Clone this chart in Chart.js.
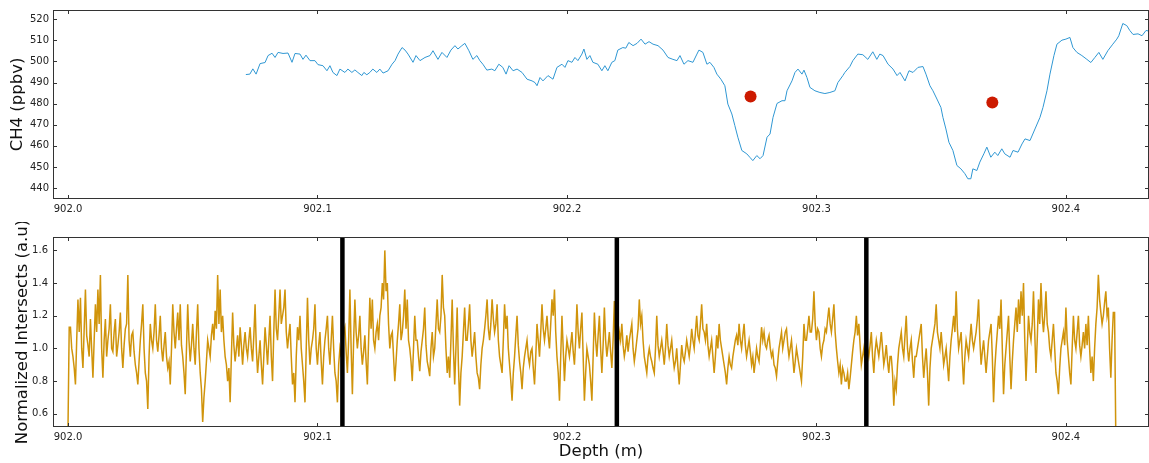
<!DOCTYPE html>
<html>
<head>
<meta charset="utf-8">
<script src="https://cdn.jsdelivr.net/npm/chart.js@4.4.1/dist/chart.umd.min.js"></script>
<style>
  html, body { margin: 0; padding: 0; background: #fff; }
  #wrap { position: relative; width: 1149px; height: 463px; }
  canvas { position: absolute; left: 0; }
  #ch4 { top: 0; }
  #ints { top: 222px; }
</style>
</head>
<body>
<div id="wrap">
  <canvas id="ch4" width="1149" height="222"></canvas>
  <canvas id="ints" width="1149" height="241"></canvas>
</div>
<script>
// ---- data ----
const X_TICKS = [902.0, 902.1, 902.2, 902.3, 902.4];
const CH4_TICKS = [440, 450, 460, 470, 480, 490, 500, 510, 520];
const INT_TICKS = [0.6, 0.8, 1.0, 1.2, 1.4, 1.6];

// CH4 record (depth m, ppbv)
const CH4_DEPTH = [
  902.0713, 902.0729, 902.0741, 902.0754, 902.0770, 902.0790, 902.0802, 902.0818, 902.0830, 902.0842,
  902.0862, 902.0882, 902.0898, 902.0910, 902.0930, 902.0942, 902.0954, 902.0970, 902.0990, 902.1002,
  902.1022, 902.1038, 902.1050, 902.1062, 902.1078, 902.1090, 902.1110, 902.1122, 902.1138, 902.1150,
  902.1162, 902.1178, 902.1186, 902.1198, 902.1210, 902.1222, 902.1238, 902.1250, 902.1263, 902.1283,
  902.1299, 902.1311, 902.1323, 902.1339, 902.1351, 902.1363, 902.1383, 902.1395, 902.1411, 902.1431,
  902.1451, 902.1463, 902.1483, 902.1499, 902.1519, 902.1535, 902.1551, 902.1563, 902.1579, 902.1591,
  902.1607, 902.1623, 902.1639, 902.1651, 902.1663, 902.1679, 902.1699, 902.1711, 902.1727, 902.1743,
  902.1756, 902.1768, 902.1784, 902.1800, 902.1820, 902.1840, 902.1860, 902.1872, 902.1880, 902.1892,
  902.1904, 902.1924, 902.1944, 902.1960, 902.1980, 902.1992, 902.2004, 902.2020, 902.2032, 902.2044,
  902.2060, 902.2068, 902.2080, 902.2092, 902.2104, 902.2124, 902.2140, 902.2152, 902.2164, 902.2180,
  902.2192, 902.2204, 902.2224, 902.2236, 902.2248, 902.2265, 902.2281, 902.2297, 902.2313, 902.2329,
  902.2345, 902.2365, 902.2385, 902.2405, 902.2425, 902.2441, 902.2453, 902.2469, 902.2485, 902.2505,
  902.2521, 902.2529, 902.2545, 902.2561, 902.2573, 902.2589, 902.2601, 902.2617, 902.2633, 902.2645,
  902.2661, 902.2673, 902.2685, 902.2701, 902.2721, 902.2733, 902.2745, 902.2761, 902.2774, 902.2786,
  902.2802, 902.2814, 902.2826, 902.2842, 902.2862, 902.2874, 902.2882, 902.2902, 902.2914, 902.2926,
  902.2942, 902.2950, 902.2962, 902.2974, 902.2994, 902.3014, 902.3034, 902.3054, 902.3074, 902.3086,
  902.3106, 902.3114, 902.3134, 902.3146, 902.3166, 902.3186, 902.3206, 902.3226, 902.3242, 902.3254,
  902.3267, 902.3287, 902.3307, 902.3323, 902.3335, 902.3355, 902.3371, 902.3387, 902.3407, 902.3427,
  902.3439, 902.3455, 902.3467, 902.3483, 902.3499, 902.3507, 902.3519, 902.3531, 902.3547, 902.3563,
  902.3579, 902.3595, 902.3607, 902.3619, 902.3627, 902.3643, 902.3655, 902.3671, 902.3683, 902.3699,
  902.3715, 902.3727, 902.3743, 902.3755, 902.3776, 902.3788, 902.3808, 902.3824, 902.3836, 902.3856,
  902.3876, 902.3896, 902.3908, 902.3924, 902.3936, 902.3952, 902.3964, 902.3984, 902.4000, 902.4016,
  902.4028, 902.4044, 902.4064, 902.4084, 902.4100, 902.4116, 902.4132, 902.4148, 902.4168, 902.4188,
  902.4204, 902.4212, 902.4228, 902.4244, 902.4256, 902.4269, 902.4289, 902.4305, 902.4321, 902.4333
];
const CH4_PPBV = [
  493.8, 494.0, 496.5, 494.0, 499.0, 499.5, 502.8, 503.9, 501.9, 504.3,
  503.8, 504.0, 499.6, 503.8, 503.5, 501.0, 503.0, 500.4, 500.4, 498.5,
  498.0, 495.6, 498.0, 494.8, 493.3, 496.4, 494.8, 496.4, 494.8, 496.0,
  494.8, 493.3, 494.8, 493.7, 494.8, 496.4, 494.8, 496.4, 494.5, 495.6,
  498.7, 500.4, 503.5, 506.6, 505.4, 503.5, 499.6, 502.8, 500.4, 501.9,
  502.8, 505.1, 501.0, 504.3, 501.9, 505.4, 507.5, 505.9, 507.5, 508.6,
  505.1, 501.0, 502.8, 500.4, 498.7, 495.9, 496.4, 495.6, 498.7, 497.2,
  494.0, 498.0, 495.6, 496.4, 494.8, 491.6, 490.8, 490.0, 488.5, 492.4,
  490.8, 493.3, 491.6, 497.2, 498.7, 497.2, 500.4, 499.6, 501.9, 500.4,
  503.5, 505.9, 501.0, 502.8, 499.6, 498.7, 495.6, 498.0, 495.6, 499.6,
  500.4, 505.4, 506.6, 506.3, 509.0, 507.5, 508.6, 510.6, 508.2, 509.4,
  508.2, 507.5, 505.4, 501.9, 501.0, 500.4, 502.8, 498.7, 500.4, 499.6,
  503.5, 505.4, 504.3, 498.7, 499.6, 497.2, 494.0, 491.6, 488.5, 479.8,
  475.1, 469.6, 464.1, 457.8, 456.2, 454.6, 453.0, 455.4, 453.9, 455.4,
  464.1, 465.6, 473.5, 480.1, 481.4, 481.4, 486.1, 490.8, 494.8, 496.4,
  494.0, 495.9, 492.4, 487.7, 486.1, 485.3, 484.8, 485.3, 486.1, 490.0,
  493.3, 494.8, 497.6, 500.4, 503.5, 503.2, 501.0, 504.6, 501.0, 503.5,
  502.8, 498.7, 496.4, 493.3, 494.8, 490.8, 495.6, 494.8, 497.2, 497.6,
  494.0, 488.5, 486.1, 482.2, 478.2, 473.5, 468.0, 461.7, 457.8, 450.7,
  449.1, 446.8, 444.4, 444.4, 449.1, 448.3, 452.3, 456.2, 459.4, 454.6,
  457.0, 455.4, 458.6, 456.2, 454.6, 457.8, 457.0, 460.9, 463.3, 462.5,
  468.0, 473.5, 478.2, 486.1, 494.0, 502.8, 508.2, 510.1, 510.6, 511.4,
  506.6, 504.3, 502.8, 501.0, 499.5, 501.9, 504.3, 501.0, 505.1, 508.2,
  510.6, 512.2, 518.0, 517.0, 514.7, 512.8, 513.1, 512.2, 514.7, 514.4
];

// discrete CH4 measurements (red dots)
const DOT_DEPTH = [902.2736, 902.3705];
const DOT_PPBV = [483.4, 480.6];

// normalized intersects, sampled every 0.5 mm from 902.000 m
const INT_START = 902.0;
const INT_STEP = 0.0005;
const INT_VALUES = [
  0.50, 1.13, 1.13, 1.00, 0.95, 0.88, 0.78, 1.05, 1.30, 1.10, 1.31, 1.00, 0.88, 1.12, 1.36, 1.08, 1.02, 0.95, 1.18, 1.00,
  0.82, 1.05, 1.27, 1.10, 1.36, 1.15, 1.45, 1.00, 0.82, 1.05, 1.18, 0.95, 1.05, 1.12, 1.27, 1.00, 0.98, 1.10, 1.18, 0.95,
  1.02, 1.10, 1.22, 1.00, 0.88, 1.02, 1.12, 1.15, 1.45, 1.05, 0.95, 1.08, 1.10, 0.98, 0.90, 0.85, 0.78, 0.92, 1.05, 1.15,
  1.27, 1.00, 0.85, 0.80, 0.63, 0.95, 1.15, 1.05, 1.00, 1.10, 1.27, 1.05, 0.98, 1.08, 1.20, 1.00, 0.92, 1.02, 1.10, 0.95,
  0.88, 0.92, 0.78, 1.00, 1.27, 1.10, 1.00, 1.12, 1.22, 1.05, 1.27, 1.02, 0.95, 0.85, 0.72, 1.00, 1.27, 1.05, 0.92, 1.02,
  1.15, 1.00, 0.90, 1.10, 1.27, 1.00, 0.85, 0.75, 0.55, 0.70, 0.80, 0.92, 1.05, 1.00, 0.95, 1.08, 1.15, 1.05, 1.23, 1.12,
  1.45, 1.15, 1.36, 1.10, 1.20, 1.05, 0.95, 0.90, 0.80, 0.88, 0.67, 0.95, 1.22, 1.02, 0.92, 1.00, 1.08, 0.95, 1.13, 1.02,
  0.90, 1.02, 1.10, 1.00, 0.95, 1.05, 1.13, 1.00, 0.92, 1.08, 1.27, 1.00, 0.85, 0.95, 1.05, 0.90, 0.78, 0.95, 1.13, 1.02,
  0.90, 1.05, 1.20, 0.95, 0.80, 1.10, 1.36, 1.12, 1.05, 1.20, 1.36, 1.15, 1.20, 1.25, 1.36, 1.10, 1.00, 1.08, 1.15, 0.95,
  0.78, 0.85, 0.67, 0.95, 1.13, 1.05, 1.20, 1.00, 0.90, 0.80, 0.67, 1.00, 1.31, 1.05, 0.90, 1.00, 1.05, 1.12, 1.27, 1.00,
  0.90, 1.02, 1.10, 0.92, 0.78, 0.95, 1.05, 1.12, 1.20, 1.00, 0.90, 1.05, 1.20, 1.00, 0.85, 0.80, 0.67, 0.90, 1.00, 0.95,
  0.95, 1.10, 1.13, 0.98, 0.85, 1.05, 1.36, 1.00, 0.72, 1.05, 1.30, 1.10, 1.00, 1.08, 1.20, 1.00, 0.90, 0.98, 1.08, 0.92,
  0.78, 1.05, 1.31, 1.12, 1.30, 1.05, 1.00, 1.10, 1.15, 1.05, 1.20, 1.25, 1.40, 1.30, 1.60, 1.35, 1.40, 1.15, 1.00, 1.08,
  1.10, 0.95, 0.80, 0.92, 1.05, 1.15, 1.27, 1.05, 1.10, 1.20, 1.36, 1.12, 1.30, 1.05, 1.00, 0.92, 0.80, 1.00, 1.20, 1.05,
  1.05, 0.95, 0.86, 0.98, 1.05, 1.12, 1.25, 1.02, 0.92, 0.88, 0.83, 1.00, 1.10, 0.95, 1.00, 1.15, 1.30, 1.12, 1.10, 1.20,
  1.45, 1.25, 1.20, 1.00, 0.85, 0.95, 0.82, 1.05, 1.30, 1.00, 0.78, 1.00, 1.25, 0.90, 0.65, 0.85, 0.95, 1.10, 1.25, 1.05,
  1.05, 1.15, 1.27, 1.05, 0.95, 1.02, 1.10, 0.95, 0.85, 0.82, 0.75, 0.90, 1.00, 1.05, 1.12, 1.20, 1.30, 1.12, 1.05, 1.15,
  1.30, 1.18, 1.10, 1.15, 1.27, 1.05, 0.95, 0.90, 0.85, 1.05, 1.27, 1.12, 1.20, 1.00, 0.90, 0.80, 0.68, 0.85, 0.95, 1.08,
  1.20, 1.02, 0.92, 0.85, 0.75, 0.88, 0.95, 1.00, 1.05, 0.95, 0.90, 0.98, 1.00, 0.88, 0.78, 0.95, 1.15, 1.05, 0.95, 1.10,
  1.27, 1.12, 1.05, 1.12, 1.20, 1.08, 1.00, 1.15, 1.30, 1.20, 1.36, 1.10, 0.95, 0.85, 0.68, 0.95, 1.20, 1.00, 0.80, 0.95,
  1.05, 1.00, 0.95, 1.02, 1.10, 0.98, 0.90, 1.05, 1.27, 1.10, 1.00, 1.12, 1.22, 0.95, 0.68, 0.85, 1.00, 0.95, 0.90, 0.80,
  0.68, 0.95, 1.22, 1.05, 0.95, 1.08, 1.20, 1.00, 0.85, 1.02, 1.25, 1.05, 0.95, 1.02, 1.10, 0.98, 0.88, 1.05, 1.29, 1.00,
  0.90, 1.00, 1.10, 1.05, 1.15, 1.02, 0.95, 1.00, 1.08, 0.98, 1.05, 1.10, 1.15, 1.00, 0.92, 0.98, 1.05, 1.12, 1.30, 1.15,
  1.20, 1.05, 0.95, 0.90, 0.85, 0.95, 1.00, 0.95, 0.92, 0.88, 0.85, 1.00, 1.20, 1.02, 0.95, 1.00, 1.05, 0.98, 0.90, 1.00,
  1.15, 1.02, 0.95, 1.00, 1.05, 0.95, 0.88, 0.92, 1.00, 0.88, 0.78, 0.90, 1.02, 0.95, 0.92, 0.98, 1.05, 1.00, 0.95, 1.02,
  1.12, 1.05, 1.00, 1.10, 1.20, 1.08, 1.05, 1.15, 1.27, 1.12, 1.10, 1.05, 1.15, 1.02, 0.95, 1.00, 1.05, 0.95, 0.85, 0.95,
  1.08, 1.00, 1.15, 1.05, 1.00, 0.95, 0.90, 0.85, 0.78, 0.88, 0.95, 0.90, 0.88, 0.95, 1.00, 1.05, 1.08, 1.02, 1.15, 1.05,
  1.00, 1.08, 1.15, 1.02, 0.95, 1.00, 1.05, 0.98, 0.90, 0.95, 0.85, 0.92, 1.00, 0.95, 0.92, 1.02, 1.13, 1.05, 1.10, 1.02,
  1.00, 1.05, 1.08, 1.00, 0.95, 0.98, 0.90, 0.88, 0.83, 0.92, 1.00, 1.05, 1.10, 1.00, 1.05, 1.10, 1.12, 1.02, 0.95, 1.00,
  1.05, 0.95, 0.85, 0.92, 1.00, 0.95, 0.90, 0.85, 0.80, 0.95, 1.15, 1.05, 1.05, 1.12, 1.20, 1.10, 1.10, 1.18, 1.35, 1.15,
  1.05, 1.12, 1.10, 1.00, 0.95, 1.02, 1.05, 1.12, 1.10, 1.18, 1.25, 1.15, 1.10, 1.18, 1.27, 1.10, 1.00, 0.92, 0.85, 0.90,
  0.78, 0.88, 0.85, 0.80, 0.80, 0.85, 0.75, 0.82, 0.90, 0.98, 1.05, 1.10, 1.20, 1.08, 1.15, 1.02, 0.90, 0.95, 1.00, 0.92,
  0.90, 1.00, 0.95, 1.02, 1.10, 0.95, 0.85, 0.98, 1.05, 1.00, 0.95, 1.02, 1.10, 1.00, 0.90, 0.95, 1.02, 0.92, 0.85, 0.95,
  0.95, 0.85, 0.65, 0.80, 0.75, 0.90, 1.00, 1.05, 1.10, 1.00, 0.95, 1.08, 1.20, 1.00, 0.92, 1.00, 1.05, 0.92, 0.82, 0.95,
  0.95, 1.00, 1.05, 1.10, 1.15, 0.95, 0.82, 0.92, 1.00, 0.85, 0.65, 0.88, 1.00, 1.05, 1.10, 1.15, 1.27, 1.10, 1.05, 1.00,
  1.10, 1.00, 0.90, 0.95, 1.00, 0.90, 0.80, 0.95, 1.05, 1.12, 1.20, 1.10, 1.35, 1.12, 1.00, 1.05, 1.10, 0.92, 0.78, 0.95,
  1.05, 1.00, 0.95, 1.05, 1.15, 1.05, 1.00, 1.05, 1.10, 1.18, 1.30, 1.05, 0.90, 0.98, 1.05, 0.95, 0.85, 0.95, 1.05, 1.10,
  1.15, 0.95, 0.67, 0.88, 1.00, 1.10, 1.20, 1.12, 1.30, 1.00, 0.72, 0.90, 1.00, 1.10, 1.20, 0.95, 0.75, 0.92, 1.05, 1.15,
  1.25, 1.10, 1.30, 1.15, 1.35, 1.20, 1.40, 1.05, 0.80, 1.00, 1.20, 1.10, 1.05, 1.15, 1.35, 1.10, 0.85, 1.05, 1.30, 1.15,
  1.40, 1.20, 1.10, 1.20, 1.35, 1.15, 1.10, 1.00, 0.95, 1.05, 1.15, 1.00, 0.85, 0.80, 0.72, 0.88, 1.00, 1.05, 1.10, 1.02,
  1.25, 1.05, 0.95, 0.85, 0.78, 1.00, 1.20, 1.05, 1.00, 1.10, 1.20, 1.02, 0.95, 1.02, 1.10, 1.00, 1.15, 1.02, 1.20, 1.00,
  0.85, 0.95, 0.80, 1.00, 1.15, 1.25, 1.45, 1.30, 1.22, 1.15, 1.20, 1.28, 1.35, 1.20, 1.25, 1.00, 0.82, 1.05, 1.22, 1.22,
  0.45
];

// section boundaries marked in the lower panel
const BOUNDARY_DEPTHS = [902.11, 902.22, 902.32];

// ---- drawing ----
const FONT = 'DejaVu Sans';
const X_MIN = 901.994, X_MAX = 902.4333;

// matplotlib-style frame with inward ticks on all four sides
const frameTicks = {
  id: 'frameTicks',
  afterDatasetsDraw(chart) {
    const { ctx, chartArea: a, scales } = chart;
    ctx.save();
    ctx.strokeStyle = '#333';
    ctx.lineWidth = 1;
    ctx.beginPath();
    scales.x.ticks.forEach(t => {
      const px = Math.round(scales.x.getPixelForValue(t.value)) + 0.5;
      ctx.moveTo(px, a.bottom); ctx.lineTo(px, a.bottom - 4);
      ctx.moveTo(px, a.top); ctx.lineTo(px, a.top + 4);
    });
    scales.y.ticks.forEach(t => {
      const py = Math.round(scales.y.getPixelForValue(t.value)) + 0.5;
      ctx.moveTo(a.left, py); ctx.lineTo(a.left + 4, py);
      ctx.moveTo(a.right, py); ctx.lineTo(a.right - 4, py);
    });
    ctx.stroke();
    ctx.strokeRect(a.left + 0.5, a.top + 0.5, a.right - a.left - 1, a.bottom - a.top - 1);
    ctx.restore();
  }
};

function xAxis(height, withTitle) {
  return {
    type: 'linear',
    min: X_MIN,
    max: X_MAX,
    afterBuildTicks: s => { s.ticks = X_TICKS.map(v => ({ value: v })); },
    afterFit: s => { s.height = height; },
    grid: { display: false, drawTicks: false },
    border: { display: false },
    ticks: {
      padding: 4,
      color: '#222',
      font: { family: FONT, size: 10 },
      maxRotation: 0,
      autoSkip: false,
      callback: v => v.toFixed(1)
    },
    title: {
      display: withTitle,
      text: 'Depth (m)',
      color: '#111',
      font: { family: FONT, size: 16.5 },
      padding: { top: 0, bottom: 1 }
    }
  };
}

function yAxis(min, max, ticks, fmt, title, titlePad, labelPad) {
  return {
    min: min,
    max: max,
    afterBuildTicks: s => { s.ticks = ticks.map(v => ({ value: v })); },
    afterFit: s => { s.width = 53; },
    grid: { display: false, drawTicks: false },
    border: { display: false },
    ticks: {
      padding: labelPad,
      color: '#222',
      font: { family: FONT, size: 10 },
      callback: fmt
    },
    title: {
      display: true,
      text: title,
      color: '#111',
      font: { family: FONT, size: 16.5 },
      padding: { top: titlePad, bottom: 0 }
    }
  };
}

const common = {
  responsive: false,
  animation: false,
  events: [],
  plugins: { legend: { display: false }, tooltip: { enabled: false } }
};

new Chart(document.getElementById('ch4'), {
  type: 'line',
  data: {
    datasets: [
      {
        type: 'scatter',
        data: DOT_DEPTH.map((d, i) => ({ x: d, y: DOT_PPBV[i] })),
        pointRadius: 6,
        pointBackgroundColor: '#cc1a00',
        pointBorderWidth: 0,
        order: 0
      },
      {
        data: CH4_DEPTH.map((d, i) => ({ x: d, y: CH4_PPBV[i] })),
        borderColor: '#2f97d3',
        borderWidth: 1,
        pointRadius: 0,
        tension: 0,
        order: 1
      }
    ]
  },
  options: Object.assign({}, common, {
    layout: { autoPadding: false, padding: { top: 9, right: 0, left: 0, bottom: 0 } },
    scales: {
      x: xAxis(23, false),
      y: yAxis(434.8, 524.4, CH4_TICKS, v => String(v), 'CH4 (ppbv)', 8, 4)
    }
  }),
  plugins: [frameTicks]
});

const boundarySets = BOUNDARY_DEPTHS.map(d => ({
  data: [{ x: d, y: 0 }, { x: d, y: 2 }],
  borderColor: '#000',
  borderWidth: 4.5,
  pointRadius: 0,
  order: 0
}));

new Chart(document.getElementById('ints'), {
  type: 'line',
  data: {
    datasets: boundarySets.concat([{
      data: INT_VALUES.map((v, i) => ({ x: INT_START + i * INT_STEP, y: v })),
      borderColor: '#d0940b',
      borderWidth: 1.5,
      pointRadius: 0,
      tension: 0,
      order: 1
    }])
  },
  options: Object.assign({}, common, {
    layout: { autoPadding: false, padding: { top: 15, right: 0, left: 0, bottom: 0 } },
    scales: {
      x: xAxis(36, true),
      y: yAxis(0.519, 1.682, INT_TICKS, v => v.toFixed(1), 'Normalized Intersects (a.u)', 12.5, 5)
    }
  }),
  plugins: [frameTicks]
});
</script>
</body>
</html>
